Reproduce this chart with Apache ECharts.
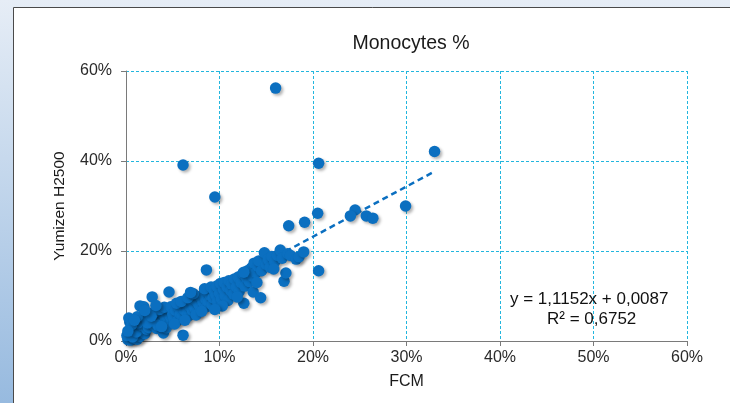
<!DOCTYPE html>
<html>
<head>
<meta charset="utf-8">
<script src="https://cdn.jsdelivr.net/npm/echarts@6/dist/echarts.min.js"></script>
<style>html,body{margin:0;padding:0;}#c{width:730px;height:403px;}</style>
</head>
<body>
<div id="c"></div>
<script>
var titleText = 'Monocytes %';
var xName = 'FCM';
var yName = 'Yumizen H2500';
var eqLine1 = 'y = 1,1152x + 0,0087';
var eqLine2 = 'R² = 0,6752';
var xTicks = [0, 10, 20, 30, 40, 50, 60];
var yTicks = [0, 20, 40, 60];

// FCM (%) vs Yumizen H2500 (%)
var fcm = [
 0.2,0.4,0.5,0.8,0.3,1.0,1.2,0.6,1.5,1.8,0.9,1.4,2.0,0.1,0.7,1.1,1.6,2.2,0.4,1.3,0.3,1.5,1.9,2.4,2.6,2.1,2.8,4.6,
 2.9,3.1,3.3,3.5,3.7,3.9,4.0,4.2,4.4,4.5,4.7,4.9,3.0,2.5,3.6,4.1,2.3,3.4,4.8,4.3,5.0,2.7,3.8,
 5.1,5.3,5.5,5.6,5.8,6.0,6.1,6.2,6.4,6.5,6.7,6.8,7.0,7.1,7.3,7.4,7.6,7.7,7.9,8.0,8.2,8.3,8.5,8.6,8.7,8.8,9.0,5.4,5.9,6.6,7.2,5.2,6.3,7.5,8.1,6.9,8.4,8.6,9.1,9.2,
 9.3,9.4,9.6,9.7,9.8,10.0,10.1,10.2,10.4,10.5,10.6,10.8,10.9,11.0,11.2,11.3,11.5,11.6,11.8,12.0,12.1,12.3,12.5,12.6,12.7,12.9,13.0,13.2,11.9,10.3,9.5,
 13.4,13.5,13.6,13.7,13.9,14.1,14.4,14.2,14.5,14.8,15.0,15.2,15.4,15.6,15.9,16.2,16.5,16.7,16.9,17.1,17.3,17.6,18.2,18.5,19.0,12.6,14.0,15.8,
 0.6,1.2,0.2,2.0,3.2,0.9,
 16.0,6.1,9.5,20.6,33.0,20.5,17.4,19.1,24.5,24.0,25.7,26.4,29.9,20.6
];
var yumizen = [
 0.3,1.0,0.2,0.6,1.8,1.5,0.4,2.5,1.0,2.2,3.1,2.8,1.6,1.2,0.9,2.0,3.5,2.6,4.2,4.0,5.1,7.8,7.6,3.0,4.4,5.2,9.8,10.9,
 3.6,4.8,2.8,5.5,4.1,6.2,1.8,5.0,3.9,6.8,5.6,4.4,6.4,6.0,7.0,7.5,4.0,3.5,7.6,2.9,6.0,5.5,3.2,
 5.2,6.8,4.5,7.6,6.0,5.3,1.3,7.0,8.2,6.3,5.6,7.8,8.9,6.8,7.5,9.2,6.4,8.4,9.9,7.2,8.8,10.4,9.4,7.6,11.0,8.6,10.2,8.4,8.8,9.6,10.5,3.8,4.6,5.8,6.6,10.8,11.6,15.8,12.0,8.0,
 9.6,11.3,10.2,12.2,8.8,10.6,12.8,9.4,11.5,13.0,10.1,12.0,9.0,13.4,11.2,12.6,10.4,13.8,12.0,14.2,11.0,13.0,15.0,8.4,12.2,14.0,15.6,13.2,9.8,7.8,7.0,
 16.2,14.4,10.9,17.3,15.2,16.6,9.6,17.8,15.6,19.6,17.0,18.2,16.4,18.8,17.6,19.0,20.2,18.4,13.3,15.1,19.4,19.0,18.2,18.7,19.8,15.3,13.0,16.0,
 3.6,5.4,2.2,6.8,7.9,4.6,
 56.2,39.1,32.0,39.5,42.1,28.4,25.6,26.4,29.1,27.8,27.8,27.3,30.0,15.6
];
// trendline endpoints
var trendX = [0.1, 32.8];
var trendY = [0.98, 37.45];

var pts = fcm.map(function(v, i){ return [v, yumizen[i]]; });
var trend = trendX.map(function(v, i){ return [v, trendY[i]]; });

var chart = echarts.init(document.getElementById('c'), null, {renderer: 'canvas'});
var font = 'Liberation Sans, Arial, sans-serif';
chart.setOption({
  animation: false,
  backgroundColor: new echarts.graphic.LinearGradient(0, 0, 0, 1, [
    {offset: 0, color: '#e6edf6'}, {offset: 1, color: '#97badf'}
  ]),
  graphic: [
    {type: 'rect', z: -100, shape: {x: 13.5, y: 7.5, width: 730, height: 410},
     style: {fill: '#ffffff', stroke: '#4a4a4a', lineWidth: 1}},
    {type: 'text', z: 100, left: 510, top: 291,
     style: {text: eqLine1, font: '17px ' + font, fill: '#111'}},
    {type: 'text', z: 100, left: 547, top: 311,
     style: {text: eqLine2, font: '17px ' + font, fill: '#111'}}
  ],
  title: {
    text: titleText, left: 406, top: 29, textAlign: 'center',
    textStyle: {fontFamily: font, fontSize: 19.5, fontWeight: 'normal', color: '#1a1a1a'}
  },
  grid: {left: 126, right: 43, top: 71, bottom: 62, containLabel: false},
  xAxis: {
    type: 'value', min: 0, max: 60, interval: 10,
    name: xName, nameLocation: 'middle', nameGap: 33,
    nameTextStyle: {fontFamily: font, fontSize: 16, color: '#1a1a1a'},
    axisLine: {show: true, lineStyle: {color: '#7a7a7a', width: 1}},
    axisTick: {show: true, inside: false, length: 5, lineStyle: {color: '#7a7a7a'}},
    axisLabel: {formatter: '{value}%', fontFamily: font, fontSize: 16, color: '#2a2a2a', margin: 9},
    splitLine: {show: true, lineStyle: {color: '#22b6de', type: [3, 2], width: 1}}
  },
  yAxis: {
    type: 'value', min: 0, max: 60, interval: 20,
    name: yName, nameLocation: 'middle', nameGap: 58, nameRotate: 90,
    nameTextStyle: {fontFamily: font, fontSize: 15.5, color: '#1a1a1a'},
    axisLine: {show: true, lineStyle: {color: '#7a7a7a', width: 1}},
    axisTick: {show: true, inside: false, length: 5, lineStyle: {color: '#7a7a7a'}},
    axisLabel: {formatter: '{value}%', fontFamily: font, fontSize: 16, color: '#2a2a2a', margin: 14},
    splitLine: {show: true, lineStyle: {color: '#22b6de', type: [3, 2], width: 1}}
  },
  series: [
    {
      type: 'scatter', data: pts, symbolSize: 11.5, z: 3,
      itemStyle: {color: '#0b6fc0', opacity: 1, shadowBlur: 3, shadowOffsetX: 2, shadowOffsetY: 2, shadowColor: 'rgba(0,0,0,0.3)'}
    },
    {
      type: 'line', data: trend, symbol: 'none', z: 2,
      lineStyle: {color: '#0b6fc0', width: 2.5, type: [6, 4]}
    }
  ]
});
</script>
</body>
</html>
